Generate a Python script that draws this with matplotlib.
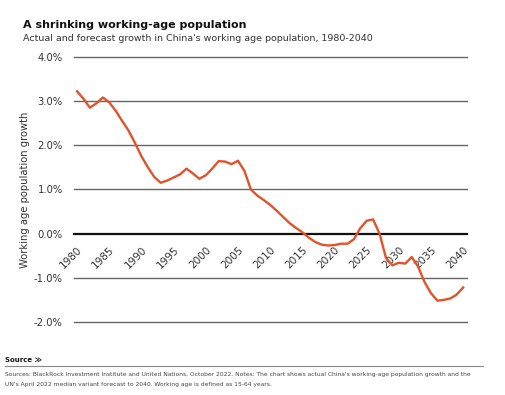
import matplotlib
matplotlib.use("Agg")
import matplotlib.pyplot as plt
from matplotlib.lines import Line2D

years = list(range(1980, 2041))
growth = [
    3.22, 3.05, 2.85, 2.95, 3.08, 2.97, 2.78, 2.55, 2.33, 2.05,
    1.75, 1.50, 1.28, 1.15, 1.20, 1.27, 1.34, 1.47, 1.36, 1.24,
    1.32, 1.47, 1.64, 1.63, 1.57, 1.65, 1.42, 1.00, 0.86, 0.76,
    0.65, 0.52, 0.38, 0.24, 0.13, 0.03, -0.09, -0.19, -0.25, -0.27,
    -0.26, -0.23, -0.23, -0.13, 0.12, 0.29, 0.32, 0.00, -0.55, -0.72,
    -0.66, -0.68, -0.53, -0.75, -1.10, -1.35, -1.52, -1.50, -1.47, -1.38,
    -1.22,
]
xticks = list(range(1980, 2041, 5))
yticks = [-2, -1, 0, 1, 2, 3, 4]

plt.rcParams['font.family'] = ['DejaVu Sans']

fig = plt.figure(figsize=(5.06, 3.95), dpi=100)
ax = fig.add_axes([0.146, 0.185, 0.777, 0.671])

# x axis sits on the zero line (do this before styling ticks)
ax.spines['bottom'].set_position(('data', 0))
for s in ax.spines.values():
    s.set_visible(False)

for v in yticks:
    if v == 0:
        continue
    ax.axhline(v, color='#666666', lw=1.0, zorder=1, clip_on=False)
ax.axhline(0, color='#111111', lw=1.6, zorder=2, clip_on=False)

ax.plot(years, growth, color='#E2532A', lw=1.7, zorder=3)

ax.set_xlim(1979.5, 2040.6)
ax.set_ylim(-2, 4)
ax.set_yticks(yticks)
ax.set_yticklabels([f"{v:.1f}%" for v in yticks], fontsize=7.2, color='#333333')
ax.set_xticks(xticks)
ax.set_xticklabels([str(y) for y in xticks], fontsize=7.5, color='#333333',
                   rotation=45, ha='right', rotation_mode='anchor')
ax.tick_params(axis='both', length=0)
ax.tick_params(axis='x', pad=8)
ax.tick_params(axis='y', pad=8)
ax.set_ylabel('Working age population growth', fontsize=7.2, color='#333333', labelpad=3)

fig.text(0.045, 0.93, 'A shrinking working-age population', fontsize=8,
         fontweight='bold', color='#111111', va='baseline')
fig.text(0.045, 0.895, "Actual and forecast growth in China's working age population, 1980-2040",
         fontsize=6.8, color='#333333', va='baseline')

fig.text(0.01, 0.083, 'Source \u226b', fontsize=5, fontweight='bold', color='#111111', va='baseline')
fig.add_artist(Line2D([0.01, 0.955], [0.073, 0.073], color='#888888', lw=0.8,
                      transform=fig.transFigure))
fig.text(0.01, 0.047,
         "Sources: BlackRock Investment Institute and United Nations, October 2022. Notes: The chart shows actual China's working-age population growth and the",
         fontsize=4.3, color='#444444', va='baseline')
fig.text(0.01, 0.022,
         "UN's April 2022 median variant forecast to 2040. Working age is defined as 15-64 years.",
         fontsize=4.3, color='#444444', va='baseline')

fig.savefig('out.png', dpi=100)
